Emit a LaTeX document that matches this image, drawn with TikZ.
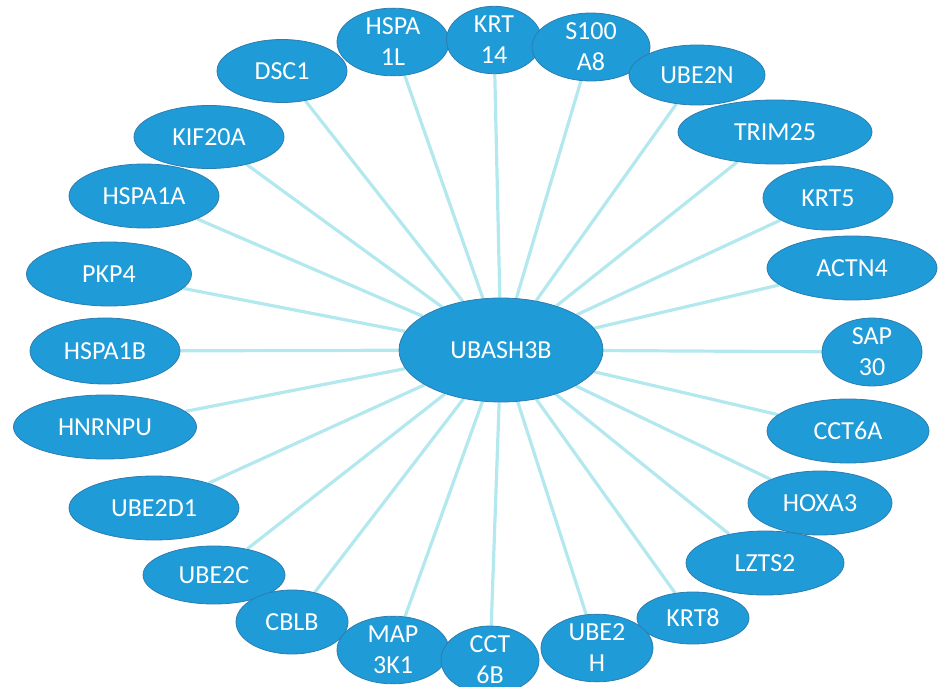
\documentclass[tikz,border=0pt]{standalone}
\usepackage{fontspec}
\setmainfont{Carlito}
\usepackage{tikz}
\usepackage{xcolor}
\usetikzlibrary{shapes}
\usetikzlibrary{backgrounds}
\usetikzlibrary{positioning}

\definecolor{genefill}{HTML}{1F9BD7}
\definecolor{geneline}{HTML}{2C7DB0}
\definecolor{linkcol}{HTML}{B2E8EE}

\begin{document}
\begin{tikzpicture}[x=1pt, y=-1pt,
                    gene/.style={draw=geneline, line width=0.8pt, fill=genefill, ellipse, inner sep=0pt,
                                 text=white, align=center, font=\fontsize{26}{31}\selectfont},
                    link/.style={draw=linkcol, line width=3.2pt}]
                    \useasboundingbox (0,0) rectangle (939,687);
                    % Hub in the middle
                    \node[gene, minimum width=204pt, minimum height=104pt] (hub) at (501,350) {UBASH3B};
                    
                    % Genes round the hub, left side from top to bottom
                    \node[gene, minimum width=130pt, minimum height=63pt] (dsc) at (282,71) {DSC1};
                    \node[gene, minimum width=150pt, minimum height=63pt] (kif) at (209,137) {KIF20A};
                    \node[gene, minimum width=150pt, minimum height=64pt] (hspaa) at (144,196) {HSPA1A};
                    \node[gene, minimum width=165pt, minimum height=64pt] (pkp) at (109,274) {PKP4};
                    \node[gene, minimum width=150pt, minimum height=66pt] (hspab) at (105,351) {HSPA1B};
                    \node[gene, minimum width=183pt, minimum height=64pt] (hnr) at (105,427) {HNRNPU};
                    \node[gene, minimum width=170pt, minimum height=64pt] (ubed) at (154,508) {UBE2D1};
                    \node[gene, minimum width=142pt, minimum height=58pt] (ubec) at (214,575) {UBE2C};
                    \node[gene, minimum width=112pt, minimum height=64pt] (cblb) at (292,622) {CBLB};
                    \node[gene, minimum width=112pt, minimum height=64pt] (map) at (393,650) {MAP\\3K1};
                    \node[gene, minimum width=98pt, minimum height=66pt] (cctb) at (490,660) {CCT\\6B};
                    
                    % Genes on the top
                    \node[gene, minimum width=112pt, minimum height=64pt] (hspal) at (393,42) {HSPA\\1L};
                    \node[gene, minimum width=95pt, minimum height=64pt] (krtf) at (494,40) {KRT\\14};
                    \node[gene, minimum width=118pt, minimum height=64pt] (s100) at (591,47) {S100\\A8};
                    
                    % Right side from top to bottom
                    \node[gene, minimum width=136pt, minimum height=60pt] (uben) at (697,75) {UBE2N};
                    \node[gene, minimum width=194pt, minimum height=64pt] (trim) at (775,132) {TRIM25};
                    \node[gene, minimum width=130pt, minimum height=64pt] (krtv) at (828,198) {KRT5};
                    \node[gene, minimum width=170pt, minimum height=64pt] (actn) at (852,268) {ACTN4};
                    \node[gene, minimum width=100pt, minimum height=62pt] (sap) at (872,352) {SAP\\30};
                    \node[gene, minimum width=162pt, minimum height=64pt] (ccta) at (848,431) {CCT6A};
                    \node[gene, minimum width=144pt, minimum height=64pt] (hox) at (820,503) {HOXA3};
                    \node[gene, minimum width=158pt, minimum height=64pt] (lzts) at (765,563) {LZTS2};
                    \node[gene, minimum width=112pt, minimum height=52pt] (krte) at (693,618) {KRT8};
                    \node[gene, minimum width=112pt, minimum height=66pt] (ubeh) at (597,648) {UBE2\\H};
                    
                    % Links from the hub, kept behind the ellipses
                    \begin{scope}[on background layer]
                        \foreach \g in {dsc, kif, hspaa, pkp, hspab, hnr, ubed, ubec, cblb, map, cctb,
                                        hspal, krtf, s100, uben, trim, krtv, actn, sap, ccta, hox, lzts, krte, ubeh}
                            \draw[link] (hub) -- (\g);
                    \end{scope}
                \end{tikzpicture}
\end{document}
